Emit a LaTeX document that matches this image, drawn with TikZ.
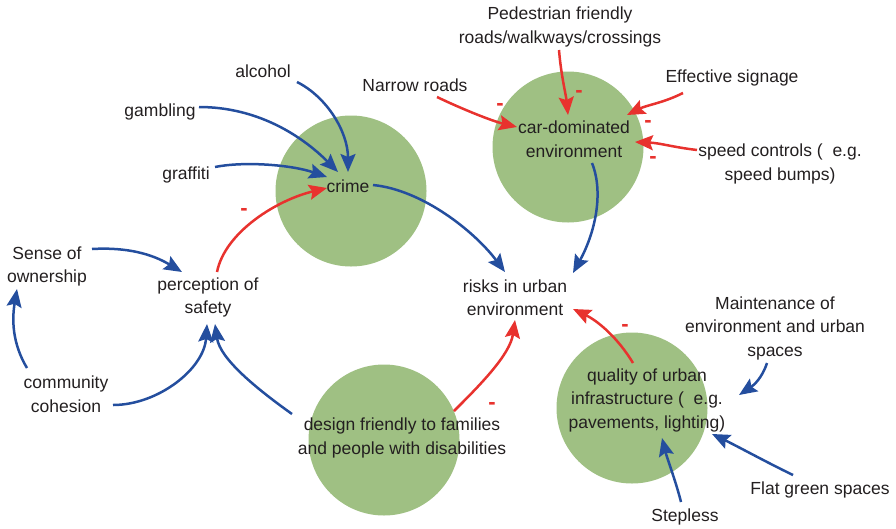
\documentclass[tikz,border=0pt]{standalone}
\usepackage{fontspec}
\setmainfont{Liberation Sans}
\usetikzlibrary{arrows.meta,calc}
\definecolor{bubblegreen}{RGB}{159,192,131}
\definecolor{linkblue}{RGB}{36,78,158}
\definecolor{linkred}{RGB}{232,50,46}
\definecolor{textgray}{RGB}{35,31,32}
\begin{document}
\begin{tikzpicture}[x=1pt,y=-1pt,
  bubble/.style={circle,fill=bubblegreen,draw=none,minimum size=151pt,inner sep=0pt},
  lbl/.style={align=center,inner sep=0pt,text=textgray,font=\fontsize{17.5}{23.5}\selectfont},
  minussign/.style={inner sep=0pt,text=linkred,font=\fontsize{22}{22}\selectfont\bfseries},
  poslink/.style={line width=2.5pt,draw=linkblue,-{Stealth[length=18pt,width=15pt,inset=3pt]}},
  neglink/.style={line width=2.5pt,draw=linkred,-{Stealth[length=18pt,width=15pt,inset=3pt]}}]
\useasboundingbox (0,0) rectangle (896,528);
% circles
\node[bubble] (b1) at (351,191) {};
\node[bubble] (b2) at (568,147) {};
\node[bubble] (b3) at (384,440) {};
\node[bubble] (b4) at (632,408) {};
% labels
\node[lbl] (ped) at (560,27) {Pedestrian friendly\\roads/walkways/crossings};
\node[lbl] (narrow) at (415,85) {Narrow roads};
\node[lbl] (sign) at (732,78) {Effective signage};
\node[lbl] (car) at (574,139) {car-dominated\\environment};
\node[lbl] (speed) at (780,164) {speed controls ( \ e.g.\\speed bumps)};
\node[lbl] (alcohol) at (263,71) {alcohol};
\node[lbl] (gambling) at (160,112) {gambling};
\node[lbl] (graffiti) at (186,175) {graffiti};
\node[lbl] (crime) at (348,186) {crime};
\node[lbl] (sense) at (47,266.5) {Sense of\\ownership};
\node[lbl] (percep) at (208,297.5) {perception of\\safety};
\node[lbl] (risks) at (515,297.5) {risks in urban\\environment};
\node[lbl] (maint) at (775,328) {Maintenance of\\environment and urban\\spaces};
\node[lbl] (comm) at (66,394) {community\\cohesion};
\node[lbl] (quality) at (647,400) {quality of urban\\infrastructure ( \ e.g.\\pavements, lighting)};
\node[lbl] (design) at (402,438) {design friendly to families\\and people with disabilities};
\node[lbl] (flat) at (820,490) {Flat green spaces};
\node[lbl] (stepless) at (685,517) {Stepless};
% minus signs
\node[minussign] (m1) at (244,212) {-};
\node[minussign] (m2) at (500,107) {-};
\node[minussign] (m3) at (579,94) {-};
\node[minussign] (m4) at (648,124) {-};
\node[minussign] (m5) at (653,160) {-};
\node[minussign] (m6) at (492,406) {-};
\node[minussign] (m7) at (625,328) {-};
% connectors
\draw[poslink] ($(alcohol)+(34,11)$) .. controls +(30,15) and +(0,-40) .. ($(crime)+(0,-14)$);
\draw[poslink] ($(gambling)+(39,-5)$) .. controls +(60,0) and +(-35,-35) .. ($(crime)+(-10,-14)$);
\draw[poslink] ($(graffiti)+(29,-8)$) .. controls +(30,-6) and +(-35,-12) .. ($(crime)+(-21,-9)$);
\draw[neglink] ($(percep)+(9,-25.5)$) .. controls +(8,-40) and +(-50,12) .. ($(crime)+(-21,2)$);
\draw[poslink] ($(crime)+(25,-1)$) .. controls +(50,5) and +(-30,-40) .. ($(risks)+(-10,-25.5)$);
\draw[poslink] ($(car)+(18,24)$) .. controls +(12,30) and +(22,-40) .. ($(risks)+(58,-24.5)$);
\draw[neglink] ($(narrow)+(22,12)$) .. controls +(25,12) and +(-25,-6) .. ($(car)+(-57,-12)$);
\draw[neglink] ($(ped)+(-1,23)$) .. controls +(2,25) and +(-2,-20) .. ($(car)+(-6,-24)$);
\draw[neglink] ($(sign)+(-49,15)$) .. controls +(-20,10) and +(20,-10) .. ($(car)+(53,-24)$);
\draw[neglink] ($(speed)+(-83,-14)$) .. controls +(-25,-3) and +(25,1) .. ($(car)+(61,3)$);
\draw[poslink] ($(sense)+(45,-17.5)$) .. controls +(35,-2) and +(-30,-18) .. ($(percep)+(-26,-25.5)$);
\draw[poslink] ($(comm)+(-39,-26)$) .. controls +(-15,-25) and +(-5,30) .. ($(sense)+(-30,22.5)$);
\draw[poslink] ($(comm)+(47,11)$) .. controls +(45,0) and +(-3,45) .. ($(percep)+(-1,26.5)$);
\draw[poslink] ($(design)+(-110,-24)$) .. controls +(-35,-25) and +(5,35) .. ($(percep)+(7,26.5)$);
\draw[neglink] ($(design)+(52,-27)$) .. controls +(25,-25) and +(-5,35) .. ($(risks)+(0,22.5)$);
\draw[neglink] ($(quality)+(-14,-37)$) .. controls +(-15,-25) and +(25,12) .. ($(risks)+(58,11.5)$);
\draw[poslink] ($(maint)+(-8,35)$) .. controls +(-5,15) and +(15,-10) .. ($(quality)+(92,-5)$);
\draw[poslink] ($(flat)+(-27,-15)$) .. controls +(-25,-12) and +(25,12) .. ($(quality)+(65,34)$);
\draw[poslink] ($(stepless)+(-4,-15)$) .. controls +(-5,-20) and +(5,20) .. ($(quality)+(15,38)$);
\end{tikzpicture}
\end{document}
